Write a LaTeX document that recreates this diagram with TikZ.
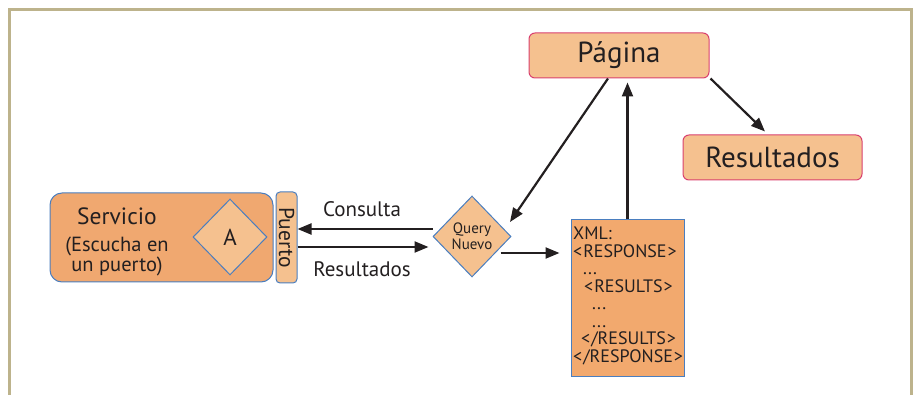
\documentclass[tikz,border=0pt]{standalone}
\usepackage{fontspec}
\setmainfont{PT Sans}
\usetikzlibrary{arrows.meta,shapes.geometric,calc}
\definecolor{frame}{HTML}{BDB38C}
\definecolor{dorange}{HTML}{F0A870}
\definecolor{lorange}{HTML}{F5C18F}
\definecolor{xorange}{HTML}{F2A96E}
\definecolor{bblue}{HTML}{4A7EBF}
\definecolor{pinkb}{HTML}{D9406E}
\definecolor{ink}{HTML}{231F20}
\newcommand{\tsp}{\hspace{1pt}}
\begin{document}
\begin{tikzpicture}[x=1pt,y=-1pt,
  every node/.style={text=ink},
  bluebox/.style={draw=bblue,line width=1pt,inner sep=0pt},
  pinkbox/.style={draw=pinkb,line width=1pt,fill=lorange,rounded corners=6pt,inner sep=0pt,minimum width=180pt,minimum height=45pt},
  dia/.style={diamond,draw=bblue,line width=1pt,fill=lorange,inner sep=0pt},
  arr/.style={draw=ink,line width=2.2pt,-{Triangle[length=14pt,width=11pt]}},
  lbl/.style={font=\fontsize{21}{22}\selectfont}]
\useasboundingbox (0,0) rectangle (913,395);
% frame
\draw[frame,line width=3pt] (9.5,396) -- (9.5,10) -- (911.5,10) -- (911.5,396);
% service
\node[bluebox,fill=dorange,rounded corners=12pt,minimum width=223pt,minimum height=89pt] (S) at (161.5,237.5) {};
\node[font=\fontsize{23.5}{24}\selectfont] (st1) at (117,216) {Servicio};
\node[font=\fontsize{20.5}{21}\selectfont] (st2) at (117,246) {(Escucha en};
\node[font=\fontsize{20.5}{21}\selectfont] (st3) at (117,266) {un puerto)};
\node[dia,minimum width=74pt,minimum height=76pt,font=\fontsize{23}{23}\selectfont] (A) at (230,237) {A};
\node[bluebox,fill=lorange,rounded corners=4pt,minimum width=21pt,minimum height=91pt] (Pu) at (286.5,237.5) {};
\node[rotate=-90,font=\fontsize{21.5}{21.5}\selectfont] (put) at (Pu.center) {Puerto};
% query diamond
\node[dia,minimum width=78pt,minimum height=81pt,align=center,font=\fontsize{15}{15.5}\selectfont] (Q) at (472,236.5) {Query\\Nuevo};
% xml box
\node[bluebox,fill=xorange,minimum width=113pt,minimum height=156pt] (X) at (627.5,298) {};
\node[anchor=north west,align=left,inner sep=0pt,font=\fontsize{18}{17.5}\selectfont] (xt) at (573,227) {XML:\\<\tsp RESPONSE\tsp >\\\hspace*{10pt}...\\\hspace*{11pt}<\tsp RESULTS\tsp >\\\hspace*{19pt}...\\\hspace*{19pt}...\\\hspace*{8pt}<\tsp /RESULTS\tsp >\\<\tsp /RESPONSE\tsp >};
% pagina & resultados
\node[pinkbox,font=\fontsize{29}{29}\selectfont] (Pg) at (619,55.5) {Página};
\node[pinkbox,minimum width=179pt,font=\fontsize{29}{29}\selectfont] (Rs) at (772.5,157.5) {Resultados};
% labels
\node[lbl] (lc) at (362,209) {Consulta};
\node[lbl] (lr) at (362,269) {Resultados};
% arrows
\draw[arr] ([yshift=7.5pt]Q.west) -- ([yshift=7.5pt]Q.west -| Pu.east);
\draw[arr] ([yshift=-9.5pt]Pu.east) -- ([yshift=-9.5pt,xshift=-4pt]Pu.east -| Q.west);
\draw[arr] ([shift={(-11,16.5)}]Q.east) coordinate (qa) -- ([xshift=-11pt]qa -| X.west);
\draw[arr,shorten >=4pt] (X.north) -- (X.north |- Pg.south);
\draw[arr] ([xshift=-11pt]Pg.south) -- ([shift={(38,-14.5)}]Q.center);
\draw[arr] ([xshift=1pt]Pg.south east) -- ([xshift=-7.5pt,yshift=3pt]Rs.north);
\end{tikzpicture}
\end{document}
